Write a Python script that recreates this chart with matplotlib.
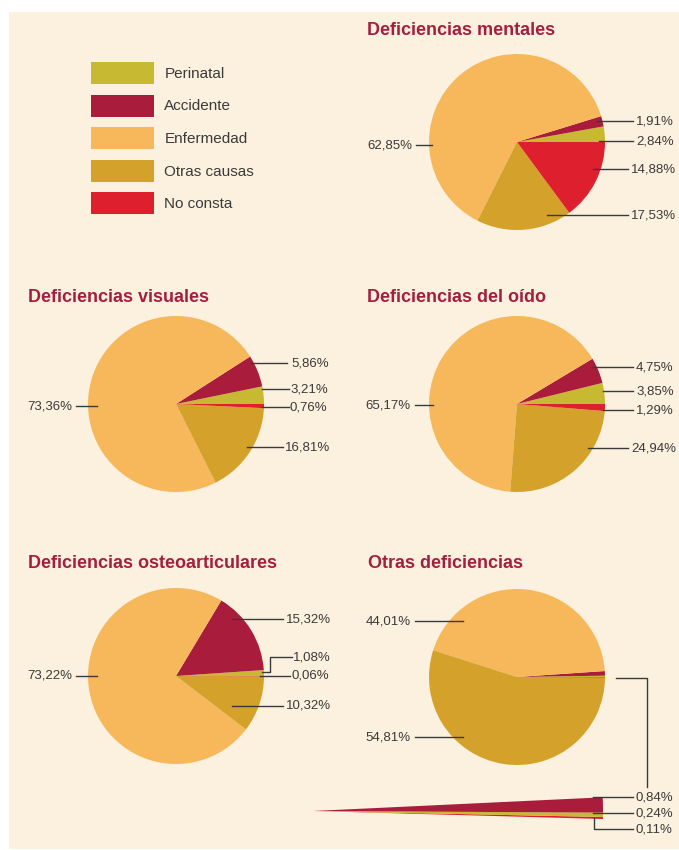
import numpy as np
import matplotlib.pyplot as plt
from matplotlib.patches import Rectangle

plt.rcParams['font.family'] = ['Liberation Sans', 'DejaVu Sans']

# data
categories = ["Perinatal", "Accidente", "Enfermedad", "Otras causas", "No consta"]
mentales = [2.84, 1.91, 62.85, 17.53, 14.88]
visuales = [3.21, 5.86, 73.36, 16.81, 0.76]
oido = [3.85, 4.75, 65.17, 24.94, 1.29]
osteo = [1.08, 15.32, 73.22, 10.32, 0.06]
otras = [0.24, 0.84, 44.01, 54.81, 0.11]

colors = ["#C7B932", "#A91C3B", "#F7B85B", "#D4A22A", "#DE1F2D"]
bg = "#FCF1DE"
title_col = "#A51E40"
txt_col = "#3a3a3a"

def pct(v):
    return f"{v:.2f}".replace(".", ",") + "%"

# layout in pixel units: (category index, polyline, text pos, align)
layout = [
    ("Deficiencias mentales", mentales, (517, 142), (367, 30), [
        (1, [(597, 121), (633, 121)], (636, 121), "left"),
        (0, [(599, 141), (633, 141)], (636, 141), "left"),
        (4, [(593, 169), (628, 169)], (631, 169), "left"),
        (3, [(547, 215), (628, 215)], (631, 215), "left"),
        (2, [(432, 145), (416, 145)], (412, 145), "right"),
    ]),
    ("Deficiencias visuales", visuales, (176, 404), (28, 297), [
        (1, [(251, 363), (287, 363)], (291, 363), "left"),
        (0, [(262, 389), (289, 389)], (290, 389), "left"),
        (4, [(262, 407), (289, 407)], (290, 407), "left"),
        (3, [(247, 447), (283, 447)], (285, 447), "left"),
        (2, [(97, 406), (76, 406)], (72, 406), "right"),
    ]),
    ("Deficiencias del oído", oido, (517, 404), (367, 297), [
        (1, [(592, 367), (633, 367)], (636, 367), "left"),
        (0, [(603, 391), (633, 391)], (636, 391), "left"),
        (4, [(603, 410), (633, 410)], (636, 410), "left"),
        (3, [(588, 448), (628, 448)], (631, 448), "left"),
        (2, [(433, 405), (415, 405)], (411, 405), "right"),
    ]),
    ("Deficiencias osteoarticulares", osteo, (176, 676), (28, 563), [
        (1, [(232, 619), (283, 619)], (286, 619), "left"),
        (0, [(262, 672), (270, 672), (270, 657), (292, 657)], (293, 657), "left"),
        (4, [(260, 676), (290, 676)], (292, 676), "left"),
        (3, [(232, 706), (283, 706)], (286, 706), "left"),
        (2, [(97, 676), (76, 676)], (72, 676), "right"),
    ]),
    ("Otras deficiencias", otras, (517, 677), (368, 563), [
        (2, [(463, 621), (415, 621)], (411, 621), "right"),
        (3, [(463, 737), (415, 737)], (411, 737), "right"),
        (None, [(616, 678), (647, 678), (647, 787)], None, None),
        (1, [(593, 797), (633, 797)], (636, 797), "left"),
        (0, [(593, 813), (633, 813)], (636, 813), "left"),
        (4, [(594, 818), (594, 829), (633, 829)], (636, 829), "left"),
    ]),
]

fig = plt.figure(figsize=(6.79, 8.50), dpi=100)
ax = fig.add_axes([0, 0, 1, 1])
ax.add_patch(Rectangle((9, 12), 670, 837, facecolor=bg, edgecolor="none", zorder=0))

R = 88
first = None
for title, vals, c, tpos, leaders in layout:
    w, _ = ax.pie(vals, colors=colors, startangle=0, counterclock=False,
                  center=c, radius=R, frame=True,
                  wedgeprops=dict(linewidth=0, zorder=2))
    if first is None:
        first = w
    ax.text(tpos[0], tpos[1], title, color=title_col, fontsize=13,
            fontweight="bold", va="center", ha="left")
    for idx, pts, tp, ha in leaders:
        pts = np.array(pts)
        ax.plot(pts[:, 0], pts[:, 1], color=txt_col, lw=1.0, zorder=3)
        if idx is not None:
            ax.text(tp[0], tp[1], pct(vals[idx]), color=txt_col, fontsize=9.5,
                    ha=ha, va="center", zorder=4)

# magnified wedge of the small slices of "Otras deficiencias"
small_idx = [4, 0, 1]
ax.pie([otras[i] / 100 for i in small_idx], colors=[colors[i] for i in small_idx],
       normalize=False, startangle=1.58, counterclock=False,
       center=(313, 811), radius=290, frame=True,
       wedgeprops=dict(linewidth=0, zorder=2))

ax.legend(first, categories, loc="upper left", bbox_to_anchor=(91 / 679, 1 - 62 / 850),
          frameon=False, fontsize=11, handlelength=4.1, handleheight=1.84,
          labelspacing=0.69, handletextpad=0.7, borderpad=0, borderaxespad=0,
          labelcolor=txt_col)

ax.set_xlim(0, 679)
ax.set_ylim(850, 0)
ax.set_aspect("equal")
ax.axis("off")
fig.savefig("out.png", dpi=100, facecolor="white")
